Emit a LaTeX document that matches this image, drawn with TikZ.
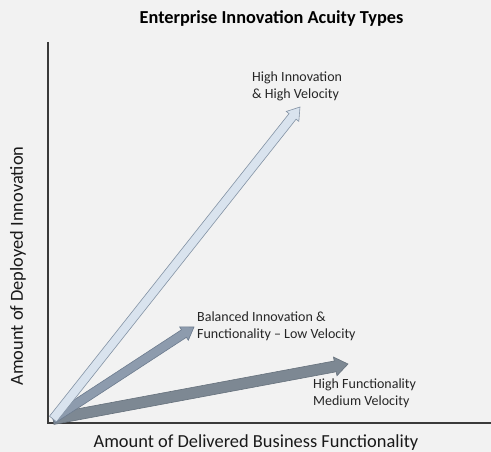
\documentclass[tikz,border=0pt]{standalone}
\usepackage{fontspec}
\setmainfont{Carlito}
\usetikzlibrary{calc}
\definecolor{bg}{HTML}{F2F2F2}
\definecolor{axis}{HTML}{3A3A3A}
\definecolor{lightfill}{HTML}{D9E3EE}
\definecolor{lightedge}{HTML}{8392A4}
\definecolor{midfill}{HTML}{8D9BAD}
\definecolor{midedge}{HTML}{6C7B8E}
\definecolor{darkfill}{HTML}{7D8893}
\definecolor{darkedge}{HTML}{66717C}
\tikzset{
  axisline/.style={draw=axis, line width=1.4pt},
  label/.style={font=\fontsize{14}{17}\selectfont, text=black!85, align=left, inner sep=0pt},
  axislabel/.style={font=\fontsize{18.4}{20}\selectfont, text=black!90, inner sep=0pt},
}
% block arrow from #1 to #2: shaft half width #3, head half width #4, head length #5 (all in pt), fill #6, edge #7
\newcommand{\blockarrow}[7]{%
  \coordinate (ba-b) at ($(#2)!#5pt!(#1)$);
  \filldraw[fill=#6, draw=#7, line width=0.6pt, line join=miter]
    ($(#1)!#3pt!-90:(#2)$) -- ($(ba-b)!#3pt!-90:(#2)$) -- ($(ba-b)!#4pt!-90:(#2)$) --
    (#2) -- ($(ba-b)!#4pt!90:(#2)$) -- ($(ba-b)!#3pt!90:(#2)$) --
    ($(#1)!#3pt!90:(#2)$) -- cycle;
}
\begin{document}
\begin{tikzpicture}[x=1pt,y=-1pt]
  \fill[bg] (0,0) rectangle (491,452);
  \useasboundingbox (0,0) rectangle (491,452);

  % axes
  \coordinate (origin) at (48,423);
  \coordinate (ytop) at (48,42);
  \coordinate (xend) at (491,423);
  \draw[axisline] (ytop) -- (origin) -- (xend);

  % arrow start and tips
  \coordinate (start) at (53,419);
  \coordinate (tipHigh) at (300,107);
  \coordinate (tipBal) at (194,327);
  \coordinate (tipFunc) at (348,364);

  \blockarrow{start}{tipFunc}{5.5}{9.5}{13}{darkfill}{darkedge}
  \blockarrow{start}{tipBal}{4.5}{8}{12}{midfill}{midedge}
  \blockarrow{start}{tipHigh}{4.5}{8}{12}{lightfill}{lightedge}

  % title and axis labels
  \node[font=\bfseries\fontsize{18.3}{20}\selectfont, inner sep=0pt] (title) at (271.5,19) {Enterprise Innovation Acuity Types};
  \node[axislabel] (xlabel) at (256,443) {Amount of Delivered Business Functionality};
  \node[axislabel, rotate=90] (ylabel) at (18,266) {Amount of Deployed Innovation};

  % arrow labels
  \node[label, anchor=west] (lblHigh) at (252,86) {High Innovation\\\& High Velocity};
  \node[label, anchor=west] (lblBal) at (197,326.5) {Balanced Innovation \&\\Functionality -- Low Velocity};
  \node[label, anchor=west] (lblFunc) at (313,393) {High Functionality\\Medium Velocity};
\end{tikzpicture}
\end{document}
